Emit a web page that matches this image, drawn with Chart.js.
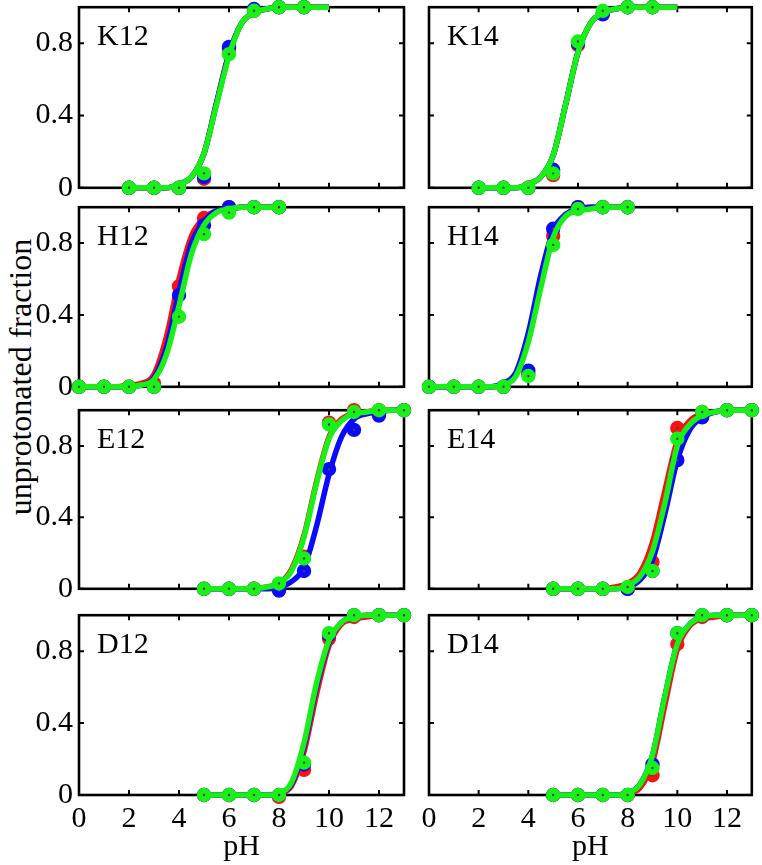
<!DOCTYPE html>
<html>
<head>
<meta charset="utf-8">
<script src="https://cdn.jsdelivr.net/npm/chart.js@4.4.0/dist/chart.umd.min.js"></script>
<style>
  body { margin: 0; background: #fff; }
  #wrap { position: relative; width: 762px; height: 865px; overflow: hidden; background: #fff; }
  #wrap canvas { position: absolute; }
  #ylab { position: absolute; left: 20px; top: 377px; transform: translate(-50%, -50%) rotate(-90deg);
          font: 32px "Liberation Serif"; white-space: nowrap; color: #000; }
</style>
</head>
<body>
<div id="wrap">
  <div id="ylab">unprotonated fraction</div>
</div>

<script>
// pH values of measured points
const pHK  = [2, 3, 4, 5, 6, 7, 8, 9];
const pHH  = [0, 1, 2, 3, 4, 5, 6, 7, 8];
const pHED = [5, 6, 7, 8, 9, 10, 11, 12, 13];

// pH grid the fitted curves were read at
const fitK  = [2, 2.5, 3, 3.5, 4, 4.5, 5, 5.5, 6, 6.5, 7, 7.5, 8, 8.5, 9, 9.5, 10];
const fitH  = [0, 0.5, 1, 1.5, 2, 2.5, 3, 3.5, 4, 4.5, 5, 5.5, 6, 6.5, 7, 7.5, 8];
const fitED = [5, 5.5, 6, 6.5, 7, 7.5, 8, 8.5, 9, 9.5, 10, 10.5, 11, 11.5, 12, 12.5, 13];

const xTicks = [0, 2, 4, 6, 8, 10, 12];
const yTicks = [0, 0.4, 0.8];

// K12
const k12Red   = [0, 0, 0, 0.05, 0.77, 0.98, 1, 1];
const k12Blue  = [0, 0, 0, 0.06, 0.78, 0.99, 1, 1];
const k12Green = [0, 0, 0, 0.08, 0.74, 0.98, 1, 1];
const k12FitRed   = [0, 0, 0, 0, 0.02, 0.06, 0.19, 0.47, 0.74, 0.91, 0.97, 0.99, 1, 1, 1, 1, 1];
const k12FitBlue  = [0, 0, 0, 0, 0.02, 0.06, 0.19, 0.47, 0.74, 0.91, 0.97, 0.99, 1, 1, 1, 1, 1];
const k12FitGreen = [0, 0, 0, 0, 0.02, 0.06, 0.19, 0.46, 0.73, 0.91, 0.97, 0.99, 1, 1, 1, 1, 1];

// K14
const k14Red   = [0, 0, 0, 0.07, 0.79, 0.97, 1, 1];
const k14Blue  = [0, 0, 0, 0.1, 0.8, 0.96, 1, 1];
const k14Green = [0, 0, 0, 0.08, 0.81, 0.98, 1, 1];
const k14FitRed   = [0, 0, 0, 0, 0.02, 0.06, 0.18, 0.46, 0.75, 0.91, 0.97, 0.99, 1, 1, 1, 1, 1];
const k14FitBlue  = [0, 0, 0, 0, 0.02, 0.06, 0.18, 0.46, 0.75, 0.91, 0.97, 0.99, 1, 1, 1, 1, 1];
const k14FitGreen = [0, 0, 0, 0, 0.02, 0.06, 0.18, 0.46, 0.75, 0.91, 0.97, 0.99, 1, 1, 1, 1, 1];

// H12
const h12Red   = [0, 0, 0, 0.02, 0.56, 0.94, 1, 1, 1];
const h12Blue  = [0, 0, 0, 0, 0.51, 0.9, 1, 1, 1];
const h12Green = [0, 0, 0, 0, 0.39, 0.85, 0.97, 1, 1];
const h12FitRed   = [0, 0, 0, 0, 0.01, 0.02, 0.07, 0.28, 0.6, 0.84, 0.94, 0.98, 0.99, 1, 1, 1, 1];
const h12FitBlue  = [0, 0, 0, 0, 0, 0.01, 0.05, 0.22, 0.53, 0.8, 0.92, 0.98, 0.99, 1, 1, 1, 1];
const h12FitGreen = [0, 0, 0, 0, 0, 0.01, 0.04, 0.18, 0.45, 0.74, 0.9, 0.97, 0.99, 1, 1, 1, 1];

// H14
const h14Red   = [0, 0, 0, 0, 0.07, 0.84, 1, 1, 1];
const h14Blue  = [0, 0, 0, 0, 0.09, 0.88, 1, 1, 1];
const h14Green = [0, 0, 0, 0, 0.06, 0.79, 0.99, 1, 1];
const h14FitRed   = [0, 0, 0, 0, 0, 0, 0.01, 0.07, 0.27, 0.58, 0.85, 0.95, 0.99, 1, 1, 1, 1];
const h14FitBlue  = [0, 0, 0, 0, 0, 0, 0.02, 0.08, 0.3, 0.62, 0.87, 0.96, 0.99, 1, 1, 1, 1];
const h14FitGreen = [0, 0, 0, 0, 0, 0, 0.01, 0.06, 0.25, 0.55, 0.83, 0.95, 0.98, 0.99, 1, 1, 1];

// E12
const e12Red   = [0, 0, 0, 0, 0.18, 0.93, 1, 1, 1];
const e12Blue  = [0, 0, 0, -0.01, 0.1, 0.67, 0.89, 0.97, 1];
const e12Green = [0, 0, 0, 0.03, 0.17, 0.92, 0.99, 1, 1];
const e12FitRed   = [0, 0, 0, 0, 0, 0.01, 0.03, 0.11, 0.3, 0.6, 0.85, 0.95, 0.98, 0.99, 1, 1, 1];
const e12FitBlue  = [0, 0, 0, 0, 0, 0, 0.01, 0.04, 0.12, 0.35, 0.64, 0.85, 0.95, 0.98, 0.99, 1, 1];
const e12FitGreen = [0, 0, 0, 0, 0, 0.01, 0.03, 0.1, 0.29, 0.59, 0.84, 0.94, 0.98, 0.99, 1, 1, 1];

// E14
const e14Red   = [0, 0, 0, 0, 0.15, 0.9, 0.99, 1, 1];
const e14Blue  = [0, 0, 0, 0, 0.1, 0.72, 0.96, 1, 1];
const e14Green = [0, 0, 0, 0.01, 0.1, 0.84, 0.99, 1, 1];
const e14FitRed   = [0, 0, 0, 0, 0, 0.01, 0.03, 0.09, 0.26, 0.55, 0.83, 0.94, 0.98, 0.99, 1, 1, 1];
const e14FitBlue  = [0, 0, 0, 0, 0, 0, 0.01, 0.05, 0.16, 0.42, 0.72, 0.89, 0.96, 0.99, 1, 1, 1];
const e14FitGreen = [0, 0, 0, 0, 0, 0, 0.02, 0.07, 0.21, 0.48, 0.8, 0.92, 0.97, 0.99, 1, 1, 1];

// D12
const d12Red   = [0, 0, 0, -0.01, 0.14, 0.87, 0.99, 1, 1];
const d12Blue  = [0, 0, 0, 0, 0.17, 0.89, 1, 1, 1];
const d12Green = [0, 0, 0, 0, 0.18, 0.9, 1, 1, 1];
const d12FitRed   = [0, 0, 0, 0, 0, 0, 0.01, 0.05, 0.24, 0.56, 0.83, 0.95, 0.98, 0.99, 1, 1, 1];
const d12FitBlue  = [0, 0, 0, 0, 0, 0, 0.01, 0.06, 0.27, 0.6, 0.85, 0.96, 0.99, 1, 1, 1, 1];
const d12FitGreen = [0, 0, 0, 0, 0, 0, 0.01, 0.07, 0.29, 0.62, 0.86, 0.96, 0.99, 1, 1, 1, 1];

// D14
const d14Red   = [0, 0, 0, 0, 0.11, 0.84, 0.99, 1, 1];
const d14Blue  = [0, 0, 0, 0, 0.17, 0.9, 1, 1, 1];
const d14Green = [0, 0, 0, 0, 0.15, 0.9, 1, 1, 1];
const d14FitRed   = [0, 0, 0, 0, 0, 0, 0.01, 0.04, 0.18, 0.5, 0.81, 0.94, 0.98, 0.99, 1, 1, 1];
const d14FitBlue  = [0, 0, 0, 0, 0, 0, 0.01, 0.06, 0.22, 0.55, 0.84, 0.95, 0.99, 1, 1, 1, 1];
const d14FitGreen = [0, 0, 0, 0, 0, 0, 0.01, 0.06, 0.22, 0.55, 0.84, 0.95, 0.99, 1, 1, 1, 1];

const RED = '#ff1010', BLUE = '#0a0aff', GREEN = '#18f018';

const panels = [
  { label: 'K12', row: 0, col: 0, px: pHK,  fx: fitK,  pts: [k12Red, k12Blue, k12Green], fits: [k12FitRed, k12FitBlue, k12FitGreen] },
  { label: 'K14', row: 0, col: 1, px: pHK,  fx: fitK,  pts: [k14Red, k14Blue, k14Green], fits: [k14FitRed, k14FitBlue, k14FitGreen] },
  { label: 'H12', row: 1, col: 0, px: pHH,  fx: fitH,  pts: [h12Red, h12Blue, h12Green], fits: [h12FitRed, h12FitBlue, h12FitGreen] },
  { label: 'H14', row: 1, col: 1, px: pHH,  fx: fitH,  pts: [h14Red, h14Blue, h14Green], fits: [h14FitRed, h14FitBlue, h14FitGreen] },
  { label: 'E12', row: 2, col: 0, px: pHED, fx: fitED, pts: [e12Red, e12Blue, e12Green], fits: [e12FitRed, e12FitBlue, e12FitGreen] },
  { label: 'E14', row: 2, col: 1, px: pHED, fx: fitED, pts: [e14Red, e14Blue, e14Green], fits: [e14FitRed, e14FitBlue, e14FitGreen] },
  { label: 'D12', row: 3, col: 0, px: pHED, fx: fitED, pts: [d12Red, d12Blue, d12Green], fits: [d12FitRed, d12FitBlue, d12FitGreen] },
  { label: 'D14', row: 3, col: 1, px: pHED, fx: fitED, pts: [d14Red, d14Blue, d14Green], fits: [d14FitRed, d14FitBlue, d14FitGreen] }
];

// page layout (plot box edges)
const cols = [ { left: 0, width: 416, axisW: 79, padR: 12 }, { left: 416, width: 346, axisW: 13, padR: 9 } ];
const rowTop = [7, 207, 410, 615];
const rowBot = [188, 387, 589, 795];

Chart.defaults.font.family = '"Liberation Serif", "Times New Roman", serif';
Chart.defaults.font.size = 30;
Chart.defaults.color = '#000';

// box, inward tick marks and panel label, matlab style
const framePlugin = {
  id: 'frame',
  beforeDatasetsDraw(chart, args, opts) {
    const { ctx, chartArea: a, scales: { x, y } } = chart;
    ctx.save();
    ctx.strokeStyle = '#000';
    ctx.lineWidth = 2.6;
    ctx.strokeRect(a.left, a.top, a.right - a.left, a.bottom - a.top);
    ctx.lineWidth = 2;
    ctx.beginPath();
    x.ticks.forEach(t => {
      const px = x.getPixelForValue(t.value);
      ctx.moveTo(px, a.bottom); ctx.lineTo(px, a.bottom - 5);
      ctx.moveTo(px, a.top);    ctx.lineTo(px, a.top + 5);
    });
    y.ticks.forEach(t => {
      const py = y.getPixelForValue(t.value);
      ctx.moveTo(a.left, py);  ctx.lineTo(a.left + 5, py);
      ctx.moveTo(a.right, py); ctx.lineTo(a.right - 5, py);
    });
    ctx.stroke();
    ctx.fillStyle = '#000';
    ctx.font = '30px "Liberation Serif"';
    ctx.textBaseline = 'alphabetic';
    ctx.fillText(opts.text, a.left + 18, a.top + 38);
    ctx.restore();
  }
};

function pairs(xs, ys) { return xs.map((v, i) => ({ x: v, y: ys[i] })); }
function noPad(s) { s.paddingTop = 0; s.paddingBottom = 0; s.paddingLeft = 0; s.paddingRight = 0; }

const wrap = document.getElementById('wrap');
panels.forEach(p => {
  const c = cols[p.col];
  const bottomRow = p.row === 3;
  const top = rowTop[p.row] - 10;
  const h = bottomRow ? 865 - top : (rowBot[p.row] - rowTop[p.row]) + 20;
  const cv = document.createElement('canvas');
  cv.width = c.width; cv.height = h;
  cv.style.left = c.left + 'px'; cv.style.top = top + 'px';
  cv.style.width = c.width + 'px'; cv.style.height = h + 'px';
  wrap.appendChild(cv);

  const colors = [RED, BLUE, GREEN];
  const datasets = [];
  colors.forEach((col, k) => {
    datasets.push({
      data: pairs(p.fx, p.fits[k]), borderColor: col, borderWidth: 5.5,
      pointRadius: 0, cubicInterpolationMode: 'monotone', clip: false, order: 5 - 2 * k
    });
    datasets.push({
      data: pairs(p.px, p.pts[k]), showLine: false, pointStyle: 'circle',
      pointRadius: 4.2, pointBorderWidth: 6, pointBorderColor: col,
      pointBackgroundColor: '#444', clip: false, order: 4 - 2 * k
    });
  });

  new Chart(cv, {
    type: 'line',
    data: { datasets },
    plugins: [framePlugin],
    options: {
      responsive: false,
      animation: false,
      devicePixelRatio: 1,
      layout: { padding: { top: 10, right: c.padR, left: 0, bottom: 0 } },
      plugins: { legend: { display: false }, tooltip: { enabled: false }, frame: { text: p.label } },
      scales: {
        x: {
          type: 'linear', min: 0, max: 13,
          afterBuildTicks: s => { s.ticks = xTicks.map(v => ({ value: v })); },
          afterFit: s => { s.height = bottomRow ? 865 - rowBot[3] : 10; noPad(s); },
          grid: { display: false, drawTicks: false },
          border: { display: false },
          ticks: { display: bottomRow, padding: 6, maxRotation: 0, autoSkip: false },
          title: { display: bottomRow, text: 'pH', padding: { top: -6, bottom: 0 } }
        },
        y: {
          type: 'linear', min: 0, max: 1,
          afterBuildTicks: s => { s.ticks = yTicks.map(v => ({ value: v })); },
          afterFit: s => { s.width = c.axisW; noPad(s); },
          grid: { display: false, drawTicks: false },
          border: { display: false },
          ticks: { display: p.col === 0, padding: 6 }
        }
      }
    }
  });
});
</script>
</body>
</html>
